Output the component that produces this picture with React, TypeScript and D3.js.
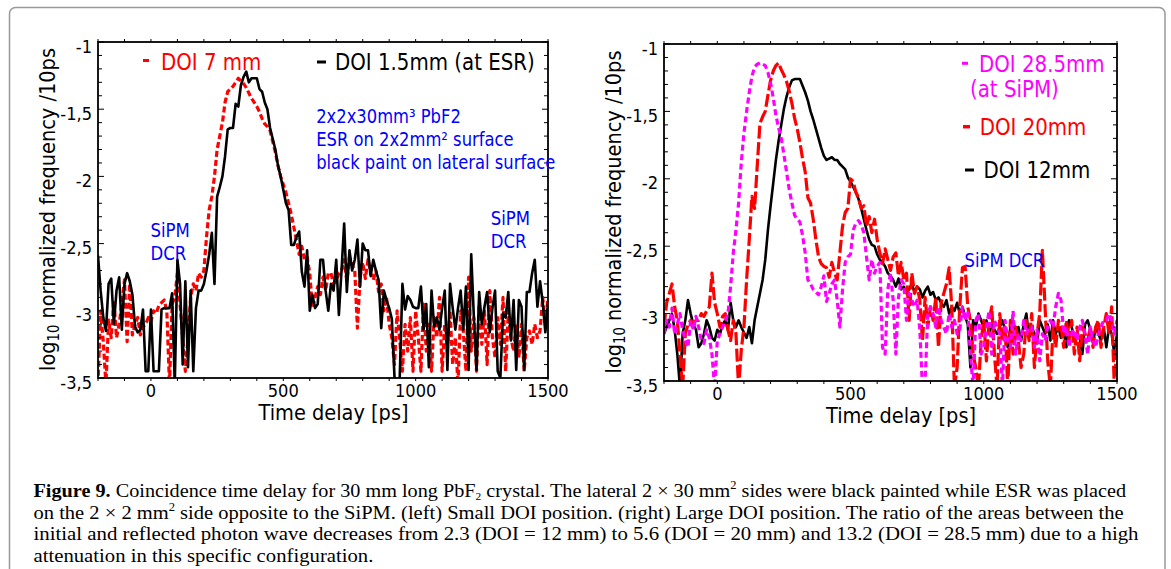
import React, { useLayoutEffect, useRef, useState } from "react";
import * as d3 from "d3";

// ---------- data (log10 normalized frequency per 10 ps bin, t = -200 ... 1500 ps) ----------
const T0 = -200;
const BIN = 10;

const xTickValues = [0, 500, 1000, 1500];
const yTickValues = [-1, -1.5, -2, -2.5, -3, -3.5];
const yTickLabels = ["-1", "-1,5", "-2", "-2,5", "-3", "-3,5"];

// left panel: DOI 1.5 mm (at ESR), black
const leftDoi15 = [
  -2.59, -2.85, -3.05, -3.15, -2.8, -2.76, -3.1, -2.85, -2.75, -3.14,
  -2.8, -2.72, -2.78, -2.88, -3.12, -3.16, -3.14, -2.99, -3.45, -3.45,
  -2.99, -3.45, -3.45, -3.45, -2.99, -2.98, -2.98, -2.98, -2.87, -3.55,
  -2.62, -2.8, -3.4, -2.78, -3.42, -2.85, -3.45, -2.98, -2.85, -2.85,
  -2.8, -2.7, -2.58, -2.42, -2.8, -2.15, -2.08, -2.0, -1.85, -1.65,
  -1.64, -1.64, -1.46, -1.48, -1.32, -1.26, -1.22, -1.3, -1.27, -1.27,
  -1.27, -1.35, -1.37, -1.45, -1.5, -1.64, -1.72, -1.8, -1.92, -2.0,
  -2.1, -2.2, -2.25, -2.51, -2.51, -2.45, -2.41, -2.71, -2.82, -2.55,
  -3.0, -2.88, -2.98, -2.95, -2.62, -2.62, -2.85, -3.0, -2.8, -2.85,
  -2.62, -3.03, -2.7, -2.35, -2.86, -2.55, -2.7, -2.62, -2.47, -2.82,
  -2.5, -2.55, -2.55, -2.74, -2.62, -2.7, -2.77, -3.13, -2.85, -2.92,
  -2.98, -3.06, -3.49, -3.55, -3.49, -2.8, -2.99, -2.89, -2.92, -2.97,
  -2.98, -2.98, -2.82, -3.14, -2.95, -3.42, -2.85, -3.12, -3.05, -3.14,
  -2.98, -2.85, -3.44, -2.8, -2.98, -3.14, -2.98, -2.85, -3.14, -2.82,
  -3.44, -2.58, -3.05, -3.44, -2.86, -3.1, -2.97, -2.86, -3.16, -2.98,
  -2.85, -3.45, -3.5, -3.02, -3.05, -2.86, -3.22, -2.92, -3.44, -2.92,
  -2.97, -3.44, -2.86, -2.86, -2.72, -2.62, -2.97, -2.78, -2.94, -3.16,
  -2.94,
];

// left panel: DOI 7 mm, red dotted
const leftDoi7 = [
  -3.55, -3.0, -3.23, -3.55, -3.07, -3.2, -2.92, -3.2, -3.1, -2.95,
  -2.77, -3.23, -2.8, -3.18, -3.1, -3.05, -3.18, -3.12, -3.1, -3.05,
  -3.08, -3.0, -3.02, -2.96, -2.94, -2.92, -3.0, -3.55, -2.95, -2.9,
  -2.72, -2.95, -3.2, -3.45, -3.2, -2.9, -2.8, -2.85, -2.72, -2.75,
  -2.7, -2.45, -2.25, -2.15, -2.0, -1.8, -1.7, -1.6, -1.45, -1.37,
  -1.35, -1.33, -1.3, -1.27, -1.29, -1.31, -1.34, -1.38, -1.42, -1.45,
  -1.48, -1.52, -1.57, -1.61, -1.63, -1.66, -1.74, -1.82, -1.92, -2.0,
  -2.06, -2.12, -2.2, -2.28, -2.38, -2.48, -2.58, -2.52, -2.62, -2.6,
  -2.72, -2.98, -2.9, -2.82, -2.88, -2.75, -2.85, -2.72, -2.72, -2.8,
  -2.78, -2.72, -2.7, -2.62, -2.78, -2.6, -2.66, -2.7, -3.13, -2.75,
  -2.64, -2.76, -2.62, -2.72, -2.77, -2.7, -2.86, -2.8, -3.0, -2.9,
  -3.1, -3.2, -3.4, -3.0, -3.22, -3.45, -3.1, -3.3, -3.05, -3.45,
  -3.0, -3.2, -3.45, -2.95, -3.3, -3.1, -3.45, -3.05, -3.2, -2.9,
  -3.45, -3.1, -3.25, -3.0, -3.4, -3.2, -3.55, -3.0, -3.15, -3.45,
  -2.75, -3.3, -3.05, -3.45, -2.95, -3.25, -3.0, -3.4, -2.85, -3.2,
  -3.35, -3.05, -3.25, -2.9, -3.45, -3.0, -3.2, -3.3, -3.1, -3.35,
  -3.1, -3.45, -3.2, -3.15, -3.25, -3.1, -3.2, -3.15, -2.9, -3.1,
  -2.9,
];

// right panel: DOI 12 mm, black
const rightDoi12 = [
  -3.15, -3.1, -3.05, -3.0, -3.12, -3.3, -3.55, -3.15, -3.05, -2.9,
  -3.0, -3.08, -3.12, -3.25, -3.22, -3.15, -3.05, -3.1, -3.18, -3.2,
  -3.12, -3.15, -3.08, -3.05, -3.12, -2.92, -3.05, -3.1, -3.05, -3.1,
  -3.14, -3.18, -3.1, -3.22, -3.05, -2.95, -2.85, -2.75, -2.6, -2.38,
  -2.2, -2.03, -1.86, -1.72, -1.6, -1.48, -1.39, -1.32, -1.27, -1.26,
  -1.26, -1.26, -1.31, -1.36, -1.42, -1.5, -1.56, -1.63, -1.7, -1.77,
  -1.83, -1.86, -1.85, -1.84, -1.86, -1.86, -1.89, -1.91, -1.93, -1.99,
  -2.02, -2.06, -2.1, -2.15, -2.22, -2.3, -2.38, -2.45, -2.49, -2.5,
  -2.56, -2.6, -2.62, -2.65, -2.7, -2.72, -2.75, -2.8, -2.74, -2.82,
  -2.8, -2.85, -2.82, -2.78, -2.84, -2.8, -2.82, -2.88, -2.83, -2.8,
  -2.86, -2.84, -2.9, -2.88, -2.92, -2.95, -2.9, -3.0, -2.95, -2.98,
  -2.92, -3.0, -2.95, -3.02, -3.08, -3.4, -3.05, -3.1, -3.0, -3.05,
  -3.1, -3.05, -3.15, -3.08, -3.12, -3.15, -3.1, -3.05, -3.12, -3.25,
  -3.1, -3.05, -3.15, -3.1, -3.2, -3.08, -3.0, -3.18, -3.1, -3.15,
  -3.22, -3.05, -3.1, -3.15, -3.08, -3.2, -3.05, -3.15, -3.1, -3.18,
  -3.12, -3.25, -3.05, -3.1, -3.2, -3.15, -3.18, -3.3, -3.08, -3.05,
  -3.12, -3.22, -3.1, -3.15, -3.2, -3.1, -3.25, -3.1, -3.15, -3.3,
  -3.15,
];

// right panel: DOI 20 mm, red dashed
const rightDoi20 = [
  -3.1, -2.92, -2.85, -2.78, -2.95, -3.05, -3.3, -3.55, -3.15, -3.08,
  -3.05, -3.07, -3.05, -3.05, -3.0, -3.02, -2.98, -2.95, -2.7, -2.92,
  -3.0, -3.1, -3.02, -3.0, -3.12, -3.2, -3.05, -3.15, -3.55, -3.27,
  -3.1, -2.75, -2.45, -2.13, -2.22, -1.9, -1.59, -1.54, -1.5, -1.38,
  -1.27, -1.2, -1.16, -1.14, -1.19, -1.23, -1.28, -1.35, -1.44, -1.55,
  -1.63, -1.73, -1.85, -1.95, -2.14, -2.18, -2.3, -2.45, -2.58, -2.63,
  -2.65, -2.66, -2.73, -2.62, -2.7, -2.75, -2.55, -2.35, -2.25, -2.22,
  -2.0, -2.02, -2.1, -2.14, -2.22, -2.2, -2.35, -2.28, -2.4, -2.3,
  -2.45, -2.55, -2.63, -2.52, -2.6, -2.68, -2.58, -2.55, -2.72, -2.62,
  -2.75, -2.7, -3.05, -2.7, -2.85, -2.8, -2.9, -3.2, -2.88, -3.1,
  -2.95, -3.05, -2.88, -3.25, -2.92, -2.85, -2.78, -2.66, -2.95, -3.55,
  -3.4, -2.95, -2.66, -2.65, -2.95, -3.05, -3.3, -3.4, -3.55, -3.2,
  -3.05, -3.35, -3.05, -2.95, -3.3, -3.55, -3.0, -3.2, -3.1, -3.55,
  -3.05, -3.3, -3.1, -3.2, -3.4, -3.3, -3.05, -3.2, -3.0, -3.4,
  -3.15, -3.0, -2.53, -2.95, -3.35, -3.55, -3.1, -3.25, -3.05, -3.1,
  -3.25, -3.05, -3.2, -3.05, -3.3, -3.1, -3.35, -3.1, -3.15, -3.2,
  -3.1, -3.25, -3.1, -3.05, -3.25, -3.1, -3.0, -3.15, -2.95, -3.55,
  -3.2,
];

// right panel: DOI 28.5 mm (at SiPM), magenta dotted
const rightDoi285 = [
  -3.15, -3.05, -3.1, -2.96, -3.15, -3.08, -3.0, -3.12, -3.2, -3.25,
  -3.05, -3.12, -3.02, -3.1, -3.2, -3.22, -3.12, -3.18, -3.3, -3.55,
  -3.2, -3.15, -3.1, -3.05, -3.0, -2.8, -2.55, -2.38, -2.18, -1.88,
  -1.66, -1.5, -1.36, -1.24, -1.17, -1.15, -1.14, -1.15, -1.16, -1.21,
  -1.29, -1.4, -1.53, -1.62, -1.7, -1.82, -1.95, -2.08, -2.18, -2.27,
  -2.3, -2.32, -2.42, -2.55, -2.75, -2.78, -2.82, -2.84, -2.86, -2.8,
  -2.72, -2.91, -2.85, -2.78, -2.75, -2.9, -3.1, -2.82, -2.62, -2.58,
  -2.56, -2.38, -2.33, -2.31, -2.34, -2.4, -2.58, -2.75, -2.6, -2.7,
  -2.65, -2.62, -3.25, -3.3, -2.82, -2.7, -2.9, -3.3, -2.88, -2.75,
  -2.78, -3.05, -2.85, -2.9, -2.95, -2.9, -3.12, -3.55, -3.5, -3.0,
  -2.95, -3.0, -3.1, -2.95, -3.05, -3.1, -3.15, -3.0, -3.1, -3.05,
  -3.15, -3.12, -2.95, -3.05, -2.98, -3.3, -3.55, -3.05, -3.0, -3.3,
  -3.25, -3.1, -2.98, -3.3, -3.05, -3.1, -3.15, -3.55, -3.05, -3.2,
  -3.25, -2.98, -3.3, -3.15, -3.2, -3.05, -3.15, -3.1, -3.1, -3.25,
  -3.12, -3.35, -3.15, -3.2, -3.1, -3.05, -3.1, -2.95, -2.85, -2.9,
  -3.15, -3.1, -3.25, -3.15, -3.12, -3.2, -3.1, -3.05, -3.15, -3.3,
  -3.1, -3.2, -3.25, -3.15, -3.1, -3.05, -3.05, -3.0, -3.05, -3.15,
  -3.05,
];

// ---------- styling ----------
const FONT = "DejaVu Sans";
const SX = 0.88; // horizontal condensing to mimic Tahoma
const RED = "#ff0000";
const MAGENTA = "#ff00ff";
const BLUE = "#0000ff";
const CAP_FONT = "Liberation Serif";

type TxtProps = {
  x: number;
  y: number;
  size: number;
  fill?: string;
  anchor?: "start" | "middle" | "end";
  rotate?: number;
  children: React.ReactNode;
};

function Txt({ x, y, size, fill = "#000", anchor = "start", rotate = 0, children }: TxtProps) {
  const tr = `translate(${x},${y})` + (rotate ? ` rotate(${rotate})` : "") + ` scale(${SX},1)`;
  return (
    <text transform={tr} fontFamily={FONT} fontSize={size} fill={fill} textAnchor={anchor}>
      {children}
    </text>
  );
}

// caption line squeezed horizontally to a given width
function FitLine({ x, y, width, size, children }: { x: number; y: number; width: number; size: number; children: React.ReactNode }) {
  const ref = useRef<SVGTextElement>(null);
  const [s, setS] = useState(1);
  useLayoutEffect(() => {
    if (!ref.current) return;
    const w = ref.current.getBBox().width;
    if (w > 0) {
      const ns = width / w;
      if (Math.abs(ns - s) > 0.001) setS(ns);
    }
  });
  return (
    <text ref={ref} transform={`translate(${x},${y}) scale(${s},1)`} fontFamily={CAP_FONT} fontSize={size} fill="#000">
      {children}
    </text>
  );
}

type Series = { values: number[]; color: string; width: number; dash?: string };
type Box = { x0: number; x1: number; y0: number; y1: number };

function Panel({ box, series, id }: { box: Box; series: Series[]; id: string }) {
  const x = d3.scaleLinear().domain([-200, 1500]).range([box.x0, box.x1]);
  const y = d3.scaleLinear().domain([-3.5, -1]).range([box.y1, box.y0]);
  const line = d3
    .line<number>()
    .x((_, i) => x(T0 + i * BIN))
    .y((v) => y(v));
  const xMinor = d3.range(-200, 1501, 100);
  const yMinor = d3.range(0, 26).map((k) => -3.5 + k * 0.1);
  const midX = (box.x0 + box.x1) / 2;
  const midY = (box.y0 + box.y1) / 2;
  return (
    <g>
      <defs>
        <clipPath id={id}>
          <rect x={box.x0} y={box.y0} width={box.x1 - box.x0} height={box.y1 - box.y0} />
        </clipPath>
      </defs>
      <g clipPath={`url(#${id})`}>
        {series.map((s, k) => (
          <path
            key={k}
            d={line(s.values) || ""}
            fill="none"
            stroke={s.color}
            strokeWidth={s.width}
            strokeDasharray={s.dash}
            strokeLinejoin="round"
          />
        ))}
      </g>
      <rect
        x={box.x0}
        y={box.y0}
        width={box.x1 - box.x0}
        height={box.y1 - box.y0}
        fill="none"
        stroke="#000"
        strokeWidth={1.8}
      />
      {xMinor.map((v) => (
        <g key={"xt" + v}>
          <line x1={x(v)} x2={x(v)} y1={box.y1} y2={box.y1 + 3} stroke="#000" strokeWidth={1} />
          <line x1={x(v)} x2={x(v)} y1={box.y0} y2={box.y0 - 3} stroke="#000" strokeWidth={1} />
        </g>
      ))}
      {yMinor.map((v, k) => {
        const len = k % 5 === 0 ? 6 : 4;
        return (
          <g key={"yt" + k}>
            <line x1={box.x0} x2={box.x0 + len} y1={y(v)} y2={y(v)} stroke="#000" strokeWidth={1} />
            <line x1={box.x1} x2={box.x1 - len} y1={y(v)} y2={y(v)} stroke="#000" strokeWidth={1} />
          </g>
        );
      })}
      {xTickValues.map((v) => (
        <Txt key={"xl" + v} x={x(v)} y={box.y1 + 18.5} size={18.5} anchor="middle">
          {String(v)}
        </Txt>
      ))}
      {yTickValues.map((v, k) => (
        <Txt key={"yl" + v} x={box.x0 - 6} y={y(v) + 10.5} size={18.5} anchor="end">
          {yTickLabels[k]}
        </Txt>
      ))}
      <Txt x={midX + 10.5} y={box.y1 + 42} size={22} anchor="middle">
        Time delay [ps]
      </Txt>
      <Txt x={box.x0 - 43} y={midY - 0.5} size={22} anchor="middle" rotate={-90}>
        log<tspan fontSize={15} dy={4}>10</tspan>
        <tspan dy={-4}>{" normalized frequency /10ps"}</tspan>
      </Txt>
    </g>
  );
}

const leftBox: Box = { x0: 98, x1: 548, y0: 42, y1: 378 };
const rightBox: Box = { x0: 664, x1: 1117, y0: 44, y1: 381 };

export default function App() {
  return (
    <svg
      width={1171}
      height={569}
      style={{ position: "absolute", left: 0, top: 0, background: "#fff" }}
    >
      <rect x={0} y={0} width={1171} height={569} fill="#fff" />
      <rect x={9.5} y={7.5} width={1155.5} height={575} rx={6} fill="none" stroke="#999" strokeWidth={1.5} />

      {/* left panel */}
      <Panel
        id="clipL"
        box={leftBox}
        series={[
          { values: leftDoi7, color: RED, width: 3.2, dash: "6 3" },
          { values: leftDoi15, color: "#000", width: 2.6 },
        ]}
      />
      <line x1={143} x2={149} y1={60.5} y2={60.5} stroke={RED} strokeWidth={3} />
      <Txt x={161} y={69.5} size={22.5} fill={RED}>DOI 7 mm</Txt>
      <line x1={317} x2={326} y1={62} y2={62} stroke="#000" strokeWidth={3} />
      <Txt x={335} y={69.5} size={22.5}>DOI 1.5mm (at ESR)</Txt>
      <Txt x={316.2} y={122.7} size={18.6} fill={BLUE}>2x2x30mm³ PbF2</Txt>
      <Txt x={316.2} y={146} size={18.6} fill={BLUE}>ESR on 2x2mm² surface</Txt>
      <Txt x={316.2} y={168.5} size={18.6} fill={BLUE}>black paint on lateral surface</Txt>
      <Txt x={150.5} y={237} size={18.8} fill={BLUE}>SiPM</Txt>
      <Txt x={150.5} y={260} size={18.8} fill={BLUE}>DCR</Txt>
      <Txt x={490.7} y={225} size={18.8} fill={BLUE}>SiPM</Txt>
      <Txt x={490.7} y={248} size={18.8} fill={BLUE}>DCR</Txt>

      {/* right panel */}
      <Panel
        id="clipR"
        box={rightBox}
        series={[
          { values: rightDoi12, color: "#000", width: 2.6 },
          { values: rightDoi20, color: RED, width: 3.2, dash: "13 3.5" },
          { values: rightDoi285, color: MAGENTA, width: 3.2, dash: "6 3.5" },
        ]}
      />
      <line x1={962} x2={968} y1={63.3} y2={63.3} stroke={MAGENTA} strokeWidth={3} />
      <Txt x={979} y={71.7} size={22.5} fill={MAGENTA}>DOI 28.5mm</Txt>
      <Txt x={970} y={96.7} size={22.5} fill={MAGENTA}>(at SiPM)</Txt>
      <line x1={963} x2={970} y1={126.7} y2={126.7} stroke={RED} strokeWidth={3.5} />
      <Txt x={979.7} y={135} size={22.5} fill={RED}>DOI 20mm</Txt>
      <line x1={965} x2={974} y1={170} y2={170} stroke="#000" strokeWidth={3} />
      <Txt x={983.5} y={178.3} size={22.5}>DOI 12mm</Txt>
      <Txt x={964.6} y={266.7} size={18.6} fill={BLUE}>SiPM DCR</Txt>

      {/* caption */}
      <FitLine x={33.5} y={497} width={1093} size={19.5}>
        <tspan fontWeight="bold">Figure 9.</tspan>
        {" Coincidence time delay for 30 mm long PbF"}
        <tspan fontSize={11} dy={2.5}>2</tspan>
        <tspan dy={-2.5}>{" crystal. The lateral 2 × 30 mm"}</tspan>
        <tspan fontSize={12} dy={-8}>2</tspan>
        <tspan dy={8}>{" sides were black painted while ESR was placed"}</tspan>
      </FitLine>
      <FitLine x={33.5} y={518.5} width={1091} size={19.5}>
        {"on the 2 × 2 mm"}
        <tspan fontSize={12} dy={-8}>2</tspan>
        <tspan dy={8}>
          {" side opposite to the SiPM. (left) Small DOI position. (right) Large DOI position. The ratio of the areas between the"}
        </tspan>
      </FitLine>
      <FitLine x={33.5} y={540} width={1106} size={19.5}>
        {"initial and reflected photon wave decreases from 2.3 (DOI = 12 mm) to 5.6 (DOI = 20 mm) and 13.2 (DOI = 28.5 mm) due to a high"}
      </FitLine>
      <FitLine x={33.5} y={561.5} width={340} size={19.5}>
        {"attenuation in this specific configuration."}
      </FitLine>
    </svg>
  );
}
